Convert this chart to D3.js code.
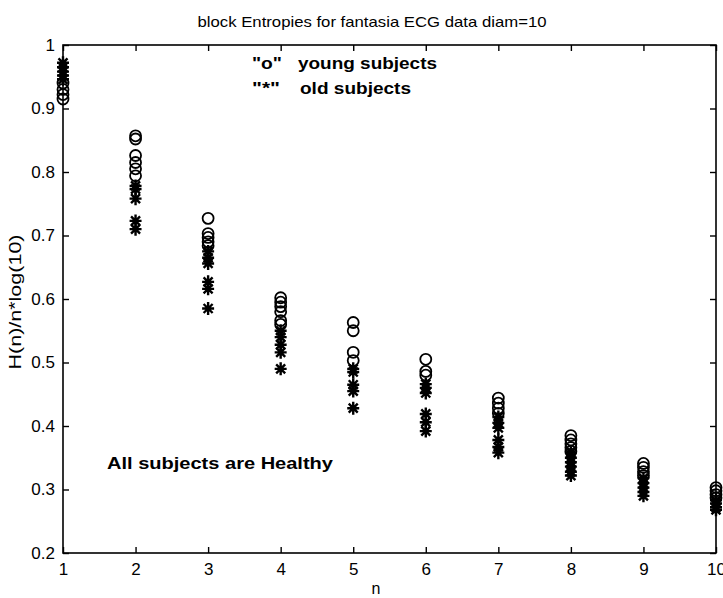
<!DOCTYPE html>
<html>
<head>
<meta charset="utf-8">
<script src="https://cdn.jsdelivr.net/npm/d3@7"></script>
<style>
  body { margin: 0; background: #fff; }
  svg { font-family: "Liberation Sans", Arial, sans-serif; }
</style>
</head>
<body>
<div id="root"></div>
<script>
// block size n on the x axis
var nValues = [1, 2, 3, 4, 5, 6, 7, 8, 9, 10];

// H(n)/n*log(10), one list per n
var youngSubjects = [
  [0.94, 0.93, 0.922, 0.915],
  [0.857, 0.852, 0.826, 0.815, 0.805, 0.794],
  [0.727, 0.703, 0.697, 0.69, 0.684],
  [0.602, 0.595, 0.588, 0.58, 0.566, 0.56],
  [0.563, 0.55, 0.516, 0.503],
  [0.505, 0.486, 0.48],
  [0.444, 0.436, 0.428, 0.42],
  [0.385, 0.378, 0.372, 0.366, 0.36],
  [0.341, 0.335, 0.328, 0.322],
  [0.303, 0.298, 0.292, 0.287]
];

var oldSubjects = [
  [0.972, 0.965, 0.958, 0.952, 0.946],
  [0.778, 0.773, 0.758, 0.723, 0.71],
  [0.675, 0.665, 0.656, 0.627, 0.616, 0.585],
  [0.55, 0.54, 0.528, 0.516, 0.49],
  [0.49, 0.485, 0.465, 0.455, 0.428],
  [0.466, 0.46, 0.452, 0.419, 0.406, 0.392],
  [0.414, 0.405, 0.397, 0.378, 0.367, 0.358],
  [0.358, 0.35, 0.343, 0.336, 0.328, 0.322],
  [0.318, 0.31, 0.303, 0.296, 0.29],
  [0.283, 0.278, 0.272, 0.268]
];

var yTicks = [0.2, 0.3, 0.4, 0.5, 0.6, 0.7, 0.8, 0.9, 1];

var width = 723, height = 598;
var plotLeft = 63, plotRight = 716, plotTop = 45, plotBottom = 553;

var svg = d3.select("#root")
    .append("svg")
    .attr("width", width)
    .attr("height", height);

var x = d3.scaleLinear().domain([1, 10]).range([plotLeft, plotRight]);
var y = d3.scaleLinear().domain([0.2, 1]).range([plotBottom, plotTop]);

// box
svg.append("rect")
    .attr("x", plotLeft)
    .attr("y", plotTop)
    .attr("width", plotRight - plotLeft)
    .attr("height", plotBottom - plotTop)
    .attr("fill", "none")
    .attr("stroke", "#000")
    .attr("stroke-width", 1.6);

function yTickFmt(d) { return d === 1 ? "1" : d3.format(".1f")(d); }

var xAxis = svg.append("g")
    .attr("transform", "translate(0," + plotBottom + ")")
    .call(d3.axisBottom(x).tickValues(nValues).tickFormat(d3.format("d")).tickSizeInner(-6).tickSizeOuter(0).tickPadding(10));
var xTop = svg.append("g")
    .attr("transform", "translate(0," + plotTop + ")")
    .call(d3.axisTop(x).tickValues(nValues).tickFormat("").tickSizeInner(-6).tickSizeOuter(0));
var yAxis = svg.append("g")
    .attr("transform", "translate(" + plotLeft + ",0)")
    .call(d3.axisLeft(y).tickValues(yTicks).tickFormat(yTickFmt).tickSizeInner(-6).tickSizeOuter(0).tickPadding(8));
var yRight = svg.append("g")
    .attr("transform", "translate(" + plotRight + ",0)")
    .call(d3.axisRight(y).tickValues(yTicks).tickFormat("").tickSizeInner(-6).tickSizeOuter(0));

[xAxis, xTop, yAxis, yRight].forEach(function (g) {
    g.select(".domain").remove();
    g.selectAll("line").attr("stroke", "#000").attr("stroke-width", 1.4);
    g.selectAll("text")
        .attr("fill", "#000")
        .attr("font-family", "Liberation Sans, Arial, sans-serif")
        .attr("font-size", 17);
});

// flatten the lists into points
function points(lists) {
    var out = [];
    lists.forEach(function (vals, i) {
        vals.forEach(function (v) { out.push({ n: nValues[i], v: v }); });
    });
    return out;
}

var star = "M-6,0L6,0M0,-6.5L0,6.5M-4.5,-4.5L4.5,4.5M-4.5,4.5L4.5,-4.5";

svg.append("g").selectAll("path")
    .data(points(oldSubjects))
    .enter()
    .append("path")
    .attr("d", star)
    .attr("transform", function (d) { return "translate(" + x(d.n) + "," + y(d.v) + ")"; })
    .attr("fill", "none")
    .attr("stroke", "#000")
    .attr("stroke-width", 2.4);

svg.append("g").selectAll("circle")
    .data(points(youngSubjects))
    .enter()
    .append("circle")
    .attr("cx", function (d) { return x(d.n); })
    .attr("cy", function (d) { return y(d.v); })
    .attr("r", 5.5)
    .attr("fill", "none")
    .attr("stroke", "#000")
    .attr("stroke-width", 1.8);

// title and axis labels
svg.append("text")
    .attr("x", 372)
    .attr("y", 27)
    .attr("text-anchor", "middle")
    .attr("font-size", 15)
    .attr("textLength", 349)
    .attr("lengthAdjust", "spacingAndGlyphs")
    .text("block Entropies for fantasia ECG data diam=10");

svg.append("text")
    .attr("x", 376)
    .attr("y", 594)
    .attr("text-anchor", "middle")
    .attr("font-size", 16)
    .text("n");

svg.append("text")
    .attr("transform", "translate(21,302) rotate(-90)")
    .attr("text-anchor", "middle")
    .attr("font-size", 17)
    .attr("textLength", 135)
    .attr("lengthAdjust", "spacingAndGlyphs")
    .text("H(n)/n*log(10)");

// annotations
var notes = [
    { t: "\"o\"", x: 252, y: 69, w: 30 },
    { t: "young subjects", x: 298, y: 69, w: 139 },
    { t: "\"*\"", x: 252, y: 94, w: 28 },
    { t: "old subjects", x: 300, y: 94, w: 111 },
    { t: "All subjects are Healthy", x: 107, y: 469, w: 226 }
];
svg.append("g").selectAll("text")
    .data(notes)
    .enter()
    .append("text")
    .attr("x", function (d) { return d.x; })
    .attr("y", function (d) { return d.y; })
    .attr("font-size", 17)
    .attr("font-weight", "bold")
    .attr("textLength", function (d) { return d.w; })
    .attr("lengthAdjust", "spacingAndGlyphs")
    .text(function (d) { return d.t; });
</script>
</body>
</html>
